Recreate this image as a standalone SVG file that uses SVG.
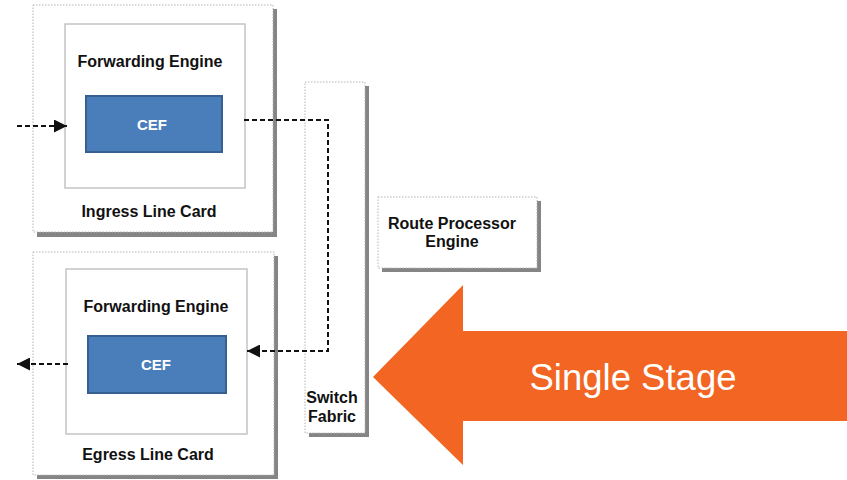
<svg xmlns="http://www.w3.org/2000/svg" width="847" height="480" viewBox="0 0 847 480">
  <style>
    .shadow { fill: #858585; }
    .card { fill: #ffffff; stroke: #b4b4b4; stroke-width: 1; stroke-dasharray: 1.5 1.5; }
    .engine { fill: #ffffff; stroke: #c4c4c4; stroke-width: 1.5; }
    .cef { fill: #4a7ebb; stroke: #35608f; stroke-width: 2; }
    .lbl { font-family: "Liberation Sans", Arial, sans-serif; font-weight: bold; font-size: 16px; fill: #111111; text-anchor: middle; }
    .cef-lbl { font-family: "Liberation Sans", Arial, sans-serif; font-weight: bold; font-size: 15px; fill: #ffffff; text-anchor: middle; }
    .flow { fill: none; stroke: #111111; stroke-width: 2; stroke-dasharray: 5 3; marker-end: url(#tip); }
  </style>
  <defs>
    <marker id="tip" markerUnits="userSpaceOnUse" markerWidth="13" markerHeight="13" refX="13" refY="6.5" orient="auto">
      <path d="M0,0 L13,6.5 L0,13 z" fill="#111111"/>
    </marker>
  </defs>

  <rect width="847" height="480" fill="#ffffff"/>

  <!-- Ingress line card -->
  <g id="ingress-card">
    <rect class="shadow" x="37" y="9" width="240" height="228"/>
    <rect class="card" x="33" y="5" width="240" height="227"/>
    <rect class="engine" x="65" y="24" width="180" height="164"/>
    <text class="lbl" x="150" y="67">Forwarding Engine</text>
    <rect class="cef" x="86" y="96" width="136" height="56"/>
    <text class="cef-lbl" x="152" y="130">CEF</text>
    <text class="lbl" x="149" y="217">Ingress Line Card</text>
  </g>

  <!-- Egress line card -->
  <g id="egress-card">
    <rect class="shadow" x="37" y="256" width="241" height="223"/>
    <rect class="card" x="33" y="252" width="241" height="223"/>
    <rect class="engine" x="66" y="269" width="181" height="165"/>
    <text class="lbl" x="156" y="312">Forwarding Engine</text>
    <rect class="cef" x="88" y="336" width="138" height="57"/>
    <text class="cef-lbl" x="156" y="370">CEF</text>
    <text class="lbl" x="148" y="460">Egress Line Card</text>
  </g>

  <!-- Switch fabric -->
  <g id="switch-fabric">
    <rect class="shadow" x="309" y="86" width="60" height="351"/>
    <rect class="card" x="305" y="82" width="60" height="351"/>
    <text class="lbl" x="332" y="403">Switch</text>
    <text class="lbl" x="332" y="422">Fabric</text>
  </g>

  <!-- Route processor -->
  <g id="route-processor">
    <rect class="shadow" x="382" y="201" width="159" height="71"/>
    <rect class="card" x="378" y="197" width="159" height="71"/>
    <text class="lbl" x="452" y="229">Route Processor</text>
    <text class="lbl" x="452" y="247">Engine</text>
  </g>

  <!-- Packet path -->
  <g id="connectors">
    <path class="flow" d="M17,126 L67,126"/>
    <path class="flow" d="M244,120 L328,120 L328,351 L247,351"/>
    <path class="flow" d="M68,364 L17,364"/>
  </g>

  <!-- Single stage callout -->
  <g id="single-stage">
    <polygon points="373,377 463,285 463,331 847,331 847,421 463,421 463,465" fill="#f26522"/>
    <text x="633" y="390" font-family="'Liberation Sans', Arial, sans-serif" font-size="36.5" fill="#ffffff" text-anchor="middle">Single Stage</text>
  </g>
</svg>
